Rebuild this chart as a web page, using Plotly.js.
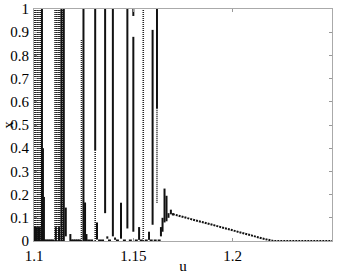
<!DOCTYPE html>
<html><head><meta charset="utf-8">
<script src="https://cdn.plot.ly/plotly-3.0.1.min.js"></script>
<style>html,body{margin:0;padding:0;background:#fff}</style>
</head><body><div id="c" style="width:341px;height:274px"></div>
<script>
// chaotic (dotted) vertical bands: u, low x, high x
var chaosU  = [1.1001,1.1009,1.1017,1.1025,1.1033,
               1.1106,1.1114,1.1122,1.1130,1.1145,
               1.1239,1.1308,1.1550,1.1619];
var chaosLo = [0,0,0,0,0, 0,0,0,0,0, 0,0,0,0.165];
var chaosHi = [1,1,1,1,1, 1,1,1,1,1, 0.87,0.39,1,0.57];
// solid vertical segments: u, low x, high x
var solidU  = [1.1005,1.1013,1.1021,1.1029,1.1040,1.1045,1.1050,1.1110,1.1126,1.1138,1.1150,1.1160,1.1183,
               1.1249,1.1257,1.1264,1.1308,1.1317,1.1358,1.1369,1.1397,1.1408,
               1.1438,1.1470,1.1500,1.1500,1.1529,1.1579,1.1597,1.1619,
               1.1639,1.1647,1.1657,1.1667,1.1677,1.1689,1.1699];
var solidLo = [0,0,0,0,0,0,0,0,0,0,0,0.02,0,
               0,0,0,0.39,0.006,0.12,0.01,0.02,0.005,
               0.01,0.054,0.04,0.97,0.005,0.005,0.07,0.57,
               0.02,0.04,0.08,0.085,0.10,0.115,0.11];
var solidHi = [0.06,0.06,0.06,0.06,1,0.40,0.19,0.06,0.06,1,1,0.144,0.03,
               1,0.166,0.03,1,0.08,1,0.02,1,0.015,
               0.165,1,0.88,1,0.06,0.04,0.91,1,
               0.06,0.10,0.226,0.195,0.12,0.135,0.12];
// periodic branch after the chaos
var tailU = [1.1699,1.175,1.18,1.185,1.19,1.195,1.2,1.205,1.21,1.215,1.2205,1.225,1.23,1.235,1.24,1.245,1.25];
var tailX = [0.116,0.103,0.092,0.081,0.069,0.057,0.046,0.035,0.023,0.011,0.0,0,0,0,0,0,0];
// fixed point at zero in the windows
var zeroU = [1.1055,1.1065,1.1075,1.1085,1.1095,1.1190,1.1200,1.1210,1.1220,1.1230,
             1.1275,1.1290,1.1330,1.1345,1.1380,1.1420,1.1455,1.1485,1.1515,1.1540,1.1565,1.1590,1.1610,1.1630];
var xTicks = [1.1,1.15,1.2,1.25];
var yTicks = [0,0.1,0.2,0.3,0.4,0.5,0.6,0.7,0.8,0.9,1];

function segs(u, lo, hi){
  var x=[], y=[];
  for (var i=0;i<u.length;i++){ x.push(u[i],u[i],null); y.push(lo[i],hi[i],null); }
  return {x:x,y:y};
}
var c = segs(chaosU, chaosLo, chaosHi);
var s = segs(solidU, solidLo, solidHi);
var zeros = zeroU.map(function(){return 0;});
var traces = [
  {x:c.x, y:c.y, mode:'lines', line:{color:'#222', width:1.6, dash:'1px,1px'}, hoverinfo:'skip'},
  {x:s.x, y:s.y, mode:'lines', line:{color:'#111', width:2}, hoverinfo:'skip'},
  {x:tailU, y:tailX, mode:'lines', line:{color:'#111', width:2, dash:'2px,1px'}, hoverinfo:'skip'},
  {x:zeroU, y:zeros, mode:'markers', marker:{color:'#111', size:3, symbol:'square'}, hoverinfo:'skip'}
];
var axfont = {family:'Liberation Serif', size:15, color:'#000'};
var layout = {
  width:341, height:274, showlegend:false,
  margin:{l:33.5, r:9, t:9, b:32.5},
  paper_bgcolor:'#fff', plot_bgcolor:'#fff',
  font: axfont,
  xaxis:{range:[1.1,1.25], tickvals:xTicks, ticktext:xTicks.map(String), ticks:'inside', ticklen:3,
         tickcolor:'#999', linecolor:'#aaa', linewidth:1, mirror:'ticks', showgrid:false, zeroline:false,
         ticklabelstandoff:1,
         tickfont:axfont, title:{text:'u', font:axfont, standoff:0}},
  yaxis:{range:[0,1], tickvals:yTicks, ticktext:yTicks.map(String), ticks:'inside', ticklen:3,
         tickcolor:'#999', linecolor:'#aaa', linewidth:1, mirror:'ticks', showgrid:false, zeroline:false,
         ticklabelstandoff:1,
         tickfont:axfont, title:{text:'x', font:axfont, standoff:4}}
};
Plotly.newPlot('c', traces, layout, {staticPlot:true, displayModeBar:false});
</script></body></html>
